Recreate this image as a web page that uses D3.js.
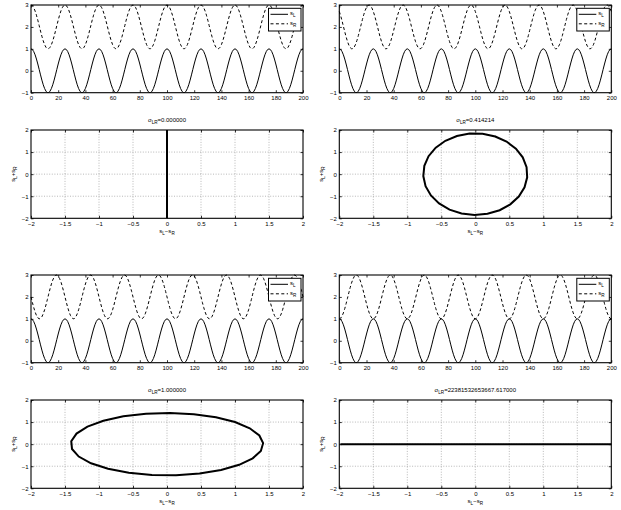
<!DOCTYPE html>
<html lang="en">
<head>
<meta charset="UTF-8">
<title>sL / sR phase plots</title>
<script src="https://cdn.jsdelivr.net/npm/d3@7"></script>
<style>
    body { margin: 0; background: #fff; }
    svg text { font-family: "Liberation Sans", Arial, sans-serif; font-size: 6px; fill: #000; }
    .domain { display: none; }
    .tick line { stroke: #000; stroke-width: 0.8; }
    .frame { fill: none; stroke: #000; stroke-width: 1.1; }
    .grid line { stroke: #888; stroke-width: 0.6; stroke-dasharray: 1,1.6; }
    .sig { fill: none; stroke: #000; stroke-width: 1; }
    .sig.dash { stroke-dasharray: 3,2.4; }
    .liss { fill: none; stroke: #000; stroke-width: 2; }
    .legend rect { fill: #fff; stroke: #000; stroke-width: 1; }
</style>
</head>
<body>
<svg id="chart" width="621" height="510"></svg>
<script>
    // one period (25 samples) of each signal, repeated over samples 0..200
    var periodL = [1, 0.9686, 0.8763, 0.7290, 0.5358, 0.3090, 0.0628, -0.1874, -0.4258, -0.6374,
        -0.8090, -0.9298, -0.9921, -0.9921, -0.9298, -0.8090, -0.6374, -0.4258, -0.1874, 0.0628,
        0.3090, 0.5358, 0.7290, 0.8763, 0.9686];
    // sR, same signal shifted by 0, 45, 90 and 180 degrees
    var periodR0 = periodL.slice();
    var periodR45 = [0.7071, 0.5090, 0.2790, 0.0314, -0.2181, -0.4540, -0.6613, -0.8271, -0.9409, -0.9956,
        -0.9877, -0.9178, -0.7902, -0.6129, -0.3971, -0.1564, 0.0941, 0.3387, 0.5621, 0.7501,
        0.8910, 0.9759, 0.9995, 0.9603, 0.8607];
    var periodR90 = [0, -0.2487, -0.4818, -0.6845, -0.8443, -0.9511, -0.9980, -0.9823, -0.9048, -0.7705,
        -0.5878, -0.3681, -0.1253, 0.1253, 0.3681, 0.5878, 0.7705, 0.9048, 0.9823, 0.9980,
        0.9511, 0.8443, 0.6845, 0.4818, 0.2487];
    var periodR180 = [-1, -0.9686, -0.8763, -0.7290, -0.5358, -0.3090, -0.0628, 0.1874, 0.4258, 0.6374,
        0.8090, 0.9298, 0.9921, 0.9921, 0.9298, 0.8090, 0.6374, 0.4258, 0.1874, -0.0628,
        -0.3090, -0.5358, -0.7290, -0.8763, -0.9686];
    var periodsR = [periodR0, periodR45, periodR90, periodR180];
    var sigmaLabels = ["0.000000", "0.414214", "1.000000", "22381532653667.617000"];
    var sampleCount = 201;
    var offsetR = 2;     // sR is drawn shifted up by 2

    var timeTicks = [0, 20, 40, 60, 80, 100, 120, 140, 160, 180, 200];
    var ampTicks = [-1, 0, 1, 2, 3];
    var lissXTicks = [-2, -1.5, -1, -0.5, 0, 0.5, 1, 1.5, 2];
    var lissYTicks = [-2, -1, 0, 1, 2];

    var svg = d3.select("#chart");
    var fmt = d3.format("~g");

    var colLeft = [31, 339.3];
    var plotW = 272;
    var rowShift = 270;

    function frame(g, x, y, xt, yt, withGrid) {
        var xr = x.range(), yr = y.range();
        if (withGrid) {
            var gg = g.append("g").attr("class", "grid");
            gg.selectAll(".gx").data(xt.slice(1, -1)).join("line")
                .attr("x1", d => x(d)).attr("x2", d => x(d))
                .attr("y1", yr[0]).attr("y2", yr[1]);
            gg.selectAll(".gy").data(yt.slice(1, -1)).join("line")
                .attr("y1", d => y(d)).attr("y2", d => y(d))
                .attr("x1", xr[0]).attr("x2", xr[1]);
        }
        g.append("g").attr("transform", "translate(0," + yr[0] + ")")
            .call(d3.axisBottom(x).tickValues(xt).tickSizeInner(-2.5).tickSizeOuter(0).tickPadding(3).tickFormat(fmt));
        g.append("g").attr("transform", "translate(0," + yr[1] + ")")
            .call(d3.axisTop(x).tickValues(xt).tickSizeInner(-2.5).tickSizeOuter(0).tickFormat(""));
        g.append("g").attr("transform", "translate(" + xr[0] + ",0)")
            .call(d3.axisLeft(y).tickValues(yt).tickSizeInner(-2.5).tickSizeOuter(0).tickPadding(2.5).tickFormat(fmt));
        g.append("g").attr("transform", "translate(" + xr[1] + ",0)")
            .call(d3.axisRight(y).tickValues(yt).tickSizeInner(-2.5).tickSizeOuter(0).tickFormat(""));
        g.append("rect").attr("class", "frame")
            .attr("x", xr[0]).attr("y", yr[1])
            .attr("width", xr[1] - xr[0]).attr("height", yr[0] - yr[1]);
    }

    function subText(sel, parts) {
        // parts: [text, isSub]
        parts.forEach(function(p) {
            var t = sel.append("tspan").text(p[0]);
            if (p[1]) t.attr("font-size", "4.6px").style("font-size", "4.6px").attr("baseline-shift", "-1.6");
        });
    }

    periodsR.forEach(function(pR, i) {
        var col = i % 2, row = Math.floor(i / 2);
        var left = colLeft[col], right = left + plotW;
        var dy = row * rowShift;

        var sL = d3.range(sampleCount).map(n => periodL[n % 25]);
        var sR = d3.range(sampleCount).map(n => pR[n % 25]);

        // --- time plot ---
        var g1 = svg.append("g");
        var x1 = d3.scaleLinear().domain([0, 200]).range([left, right]);
        var y1 = d3.scaleLinear().domain([-1, 3]).range([92.7 + dy, 5 + dy]);

        var line1 = d3.line().x((d, n) => x1(n)).y(d => y1(d));
        g1.append("path").attr("class", "sig").attr("d", line1(sL));
        g1.append("path").attr("class", "sig dash").attr("d", line1(sR.map(v => v + offsetR)));
        frame(g1, x1, y1, timeTicks, ampTicks, false);

        // legend
        var lg = g1.append("g").attr("class", "legend")
            .attr("transform", "translate(" + (right - 34.5) + "," + (8.3 + dy) + ")");
        lg.append("rect").attr("width", 32.5).attr("height", 22.7);
        [["L", false], ["R", true]].forEach(function(e, k) {
            var yy = 6 + k * 9.5;
            lg.append("line").attr("class", "sig" + (e[1] ? " dash" : ""))
                .attr("x1", 2).attr("x2", 19.5).attr("y1", yy).attr("y2", yy);
            var t = lg.append("text").attr("x", 21.5).attr("y", yy + 1);
            subText(t, [["s", false], [e[0], true]]);
        });

        // --- sum / difference plot ---
        var g2 = svg.append("g");
        var x2 = d3.scaleLinear().domain([-2, 2]).range([left, right]);
        var y2 = d3.scaleLinear().domain([-2, 2]).range([218.3 + dy, 130 + dy]);
        frame(g2, x2, y2, lissXTicks, lissYTicks, true);
        var pts = sL.map((v, n) => [v - sR[n], v + sR[n]]);
        g2.append("path").attr("class", "liss")
            .attr("d", d3.line().x(d => x2(d[0])).y(d => y2(d[1]))(pts));

        var cx = (left + right) / 2;
        var tt = g2.append("text").attr("x", cx).attr("y", 122 + dy).attr("text-anchor", "middle");
        subText(tt, [["σ", false], ["LR", true], ["=" + sigmaLabels[i], false]]);

        var xl = g2.append("text").attr("x", cx).attr("y", 232.5 + dy).attr("text-anchor", "middle");
        subText(xl, [["s", false], ["L", true], ["−s", false], ["R", true]]);

        var yl = g2.append("text").attr("text-anchor", "middle")
            .attr("transform", "translate(" + (left - 16.5) + "," + (174 + dy) + ") rotate(-90)");
        subText(yl, [["s", false], ["L", true], ["+s", false], ["R", true]]);
    });
</script>
</body>
</html>
